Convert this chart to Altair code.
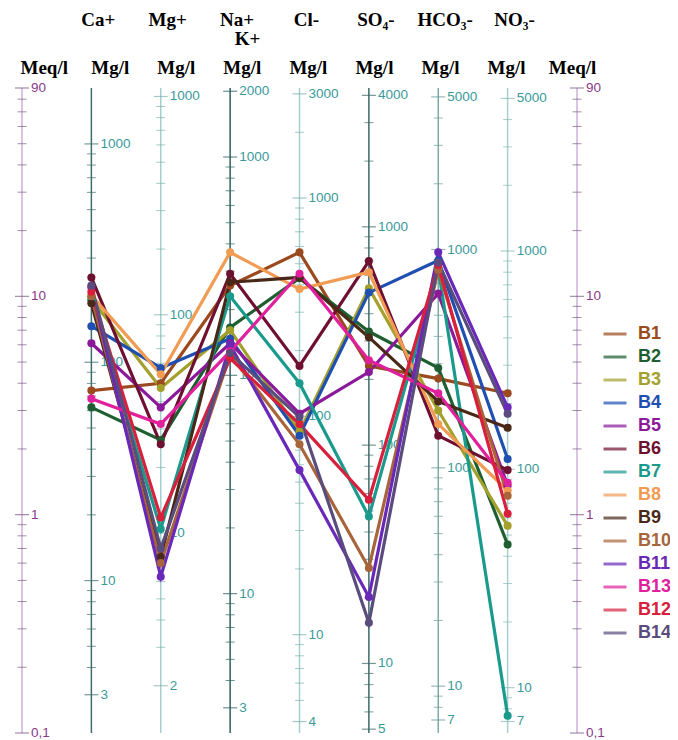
import altair as alt
import pandas as pd

# ---------------- data ----------------
params = ["Ca+", "Mg+", "Na+", "Cl-", "SO₄-", "HCO₃-", "NO₃-"]
eq_weight = [20.04, 12.15, 23.0, 35.45, 48.03, 61.02, 62.0]   # mg per meq

samples = ["B1", "B2", "B3", "B4", "B5", "B6", "B7", "B8", "B9", "B10",
           "B11", "B13", "B12", "B14"]
sample_colors = ["#9a4a1e", "#1e5e30", "#a3a02c", "#1f4fb0", "#8a1a9a",
                 "#6e1030", "#1a9a8c", "#f29b52", "#4a2818", "#a8643a",
                 "#6a28b8", "#e0209c", "#d8203c", "#5a4c7c"]

# meq/l, order: Ca, Mg, Na+K, Cl, SO4, HCO3, NO3
b1 = [3.7, 4.0, 11.2, 15.9, 4.8, 4.2, 3.6]
b2 = [3.1, 2.2, 7.2, 12.1, 6.9, 4.7, 0.73]
b3 = [9.7, 3.8, 7.0, 2.4, 10.9, 3.0, 0.89]
b4 = [7.3, 4.7, 6.4, 2.3, 10.4, 14.6, 1.8]
b5 = [6.1, 3.1, 6.1, 2.9, 4.5, 10.3, 1.36]
b6 = [12.2, 2.1, 12.7, 4.8, 14.5, 2.3, 1.6]
b7 = [9.6, 0.86, 10.0, 4.0, 0.98, 13.4, 0.12]
b8 = [10.1, 4.4, 15.9, 10.8, 12.9, 2.6, 1.29]
b9 = [9.3, 0.64, 11.6, 12.2, 6.5, 3.3, 2.5]
b10 = [10.0, 0.60, 5.4, 2.1, 0.57, 13.2, 1.22]
b11 = [11.0, 0.52, 6.0, 1.6, 0.42, 15.9, 3.1]
b13 = [3.4, 2.6, 5.6, 12.7, 5.1, 3.6, 1.4]
b12 = [10.5, 0.97, 5.2, 2.6, 1.17, 13.9, 1.01]
b14 = [11.2, 0.70, 5.5, 2.8, 0.32, 14.3, 2.9]
series = [b1, b2, b3, b4, b5, b6, b7, b8, b9, b10, b11, b13, b12, b14]

# mg/l axes: labelled values and tick range
mg_labels = [[1000, 100, 10, 3], [1000, 100, 10, 2], [2000, 1000, 100, 10, 3],
             [3000, 1000, 100, 10, 4], [4000, 1000, 100, 10, 5],
             [5000, 1000, 100, 10, 7], [5000, 1000, 100, 10, 7]]
mg_tick_range = [(3, 1000), (2, 1000), (3, 2000), (4, 3000), (5, 4000),
                 (7, 5000), (7, 5000)]
meq_labels = [90, 10, 1, 0.1]
meq_label_text = ["90", "10", "1", "0,1"]
meq_range = (0.1, 90)

unit_row = ["Meq/l"] + ["Mg/l"] * 7 + ["Meq/l"]

# ---------------- styles ----------------
axis_line_colors = ["#cfb0d8", "#3d6e6e", "#a3cfcf", "#2e5e5e", "#a3cfcf",
                    "#3a6868", "#80aaaa", "#a8cece", "#cfb0d8"]
tick_colors = ["#7a5a84", "#3d6e6e", "#7fb0b0", "#2e5e5e", "#7fb0b0",
               "#3a6868", "#6a9898", "#8ab8b8", "#7a5a84"]
mg_label_color = "#3a9a9a"
meq_label_color = "#8b3a8b"


def log_ticks(lo, hi):
    out = []
    for k in range(-2, 5):
        for n in range(1, 10):
            v = round(n * 10 ** k, 6)
            if lo - 1e-9 <= v <= hi + 1e-9:
                out.append(v)
    return out


# ---------------- tables ----------------
line_rows = []
for s, vals in zip(samples, series):
    for i, v in enumerate(vals):
        line_rows.append({"sample": s, "x": i + 1, "meq": v})
lines_df = pd.DataFrame(line_rows)

axis_rows, tick_rows, label_rows = [], [], []
for c in [0, 8]:
    axis_rows.append({"x": c, "lo": meq_range[0], "hi": meq_range[1],
                      "col": axis_line_colors[c]})
    labs = set(meq_labels)
    for v in log_ticks(*meq_range):
        tick_rows.append({"x": c, "meq": v, "major": v in labs, "col": tick_colors[c]})
    for v, t in zip(meq_labels, meq_label_text):
        label_rows.append({"x": c, "meq": v, "text": t, "col": meq_label_color})
for i in range(7):
    c = i + 1
    axis_rows.append({"x": c, "lo": meq_range[0], "hi": meq_range[1],
                      "col": axis_line_colors[c]})
    labs = set(mg_labels[i])
    lo, hi = mg_tick_range[i]
    for v in log_ticks(lo, hi):
        tick_rows.append({"x": c, "meq": v / eq_weight[i], "major": v in labs,
                          "col": tick_colors[c]})
    for v in mg_labels[i]:
        label_rows.append({"x": c, "meq": v / eq_weight[i], "text": str(v),
                           "col": mg_label_color})
axis_df = pd.DataFrame(axis_rows)
tick_df = pd.DataFrame(tick_rows)
label_df = pd.DataFrame(label_rows)

head2_df = pd.DataFrame({"hx": [0.32 + 0.952 * i for i in range(9)], "text": unit_row})
head1_df = pd.DataFrame({"hx": [i + 1.1 for i in range(7)], "text": params})
headK_df = pd.DataFrame({"hx": [3.25], "text": ["K+"]})

# ---------------- scales ----------------
xs = alt.Scale(domain=[0, 8], nice=False, zero=False)
ys = alt.Scale(type="log", domain=[0.1, 90], nice=False)
X = alt.X("x:Q", scale=xs, axis=None)

axis_lines = alt.Chart(axis_df).mark_rule(strokeWidth=1.5).encode(
    x=X,
    y=alt.Y("lo:Q", scale=ys, axis=None),
    y2="hi:Q",
    color=alt.Color("col:N", scale=None),
)

minor_ticks = alt.Chart(tick_df).transform_filter("!datum.major").mark_tick(
    orient="horizontal", size=9, thickness=1).encode(
    x=X,
    y=alt.Y("meq:Q", scale=ys, axis=None),
    color=alt.Color("col:N", scale=None),
)
major_ticks = alt.Chart(tick_df).transform_filter("datum.major").mark_tick(
    orient="horizontal", size=14, thickness=1.2).encode(
    x=X,
    y=alt.Y("meq:Q", scale=ys, axis=None),
    color=alt.Color("col:N", scale=None),
)

tick_labels = alt.Chart(label_df).mark_text(
    align="left", baseline="middle", dx=9, font="Liberation Sans",
    fontSize=13.5).encode(
    x=X,
    y=alt.Y("meq:Q", scale=ys, axis=None),
    text="text:N",
    color=alt.Color("col:N", scale=None),
)

legend = alt.Legend(
    orient="none", legendX=580, legendY=233, title=None,
    symbolType="stroke", symbolStrokeWidth=3, symbolSize=529,
    labelFont="Liberation Sans", labelFontSize=18, labelFontWeight="bold",
    labelColor={"expr": "scale('color', datum.value)"},
    labelOffset=10, rowPadding=1, padding=0, offset=0,
)

lines = alt.Chart(lines_df).mark_line(strokeWidth=3.2).encode(
    x=X,
    y=alt.Y("meq:Q", scale=ys, axis=None),
    color=alt.Color("sample:N", scale=alt.Scale(domain=samples, range=sample_colors),
                    legend=legend),
    detail="sample:N",
)
points = alt.Chart(lines_df).mark_circle(size=65, opacity=1).encode(
    x=X,
    y=alt.Y("meq:Q", scale=ys, axis=None),
    color=alt.Color("sample:N", scale=alt.Scale(domain=samples, range=sample_colors),
                    legend=None),
)

head_font = dict(font="Liberation Serif", fontWeight="bold", fontSize=19,
                 color="black", baseline="middle", align="center")
head1 = alt.Chart(head1_df).mark_text(**head_font).encode(
    x=alt.X("hx:Q", scale=xs, axis=None), y=alt.value(-68), text="text:N")
headK = alt.Chart(headK_df).mark_text(**head_font).encode(
    x=alt.X("hx:Q", scale=xs, axis=None), y=alt.value(-49), text="text:N")
head2 = alt.Chart(head2_df).mark_text(**head_font).encode(
    x=alt.X("hx:Q", scale=xs, axis=None), y=alt.value(-20), text="text:N")

chart = alt.layer(
    axis_lines, minor_ticks, major_ticks, tick_labels, lines, points,
    head1, headK, head2,
).properties(
    width=555, height=645,
    autosize=alt.AutoSizeParams(type="none"),
    padding={"left": 14, "top": 80, "right": 93, "bottom": 7},
    background="white",
).configure_view(strokeWidth=0)

chart.save("out.html", embed_options={"renderer": "svg", "actions": False})
